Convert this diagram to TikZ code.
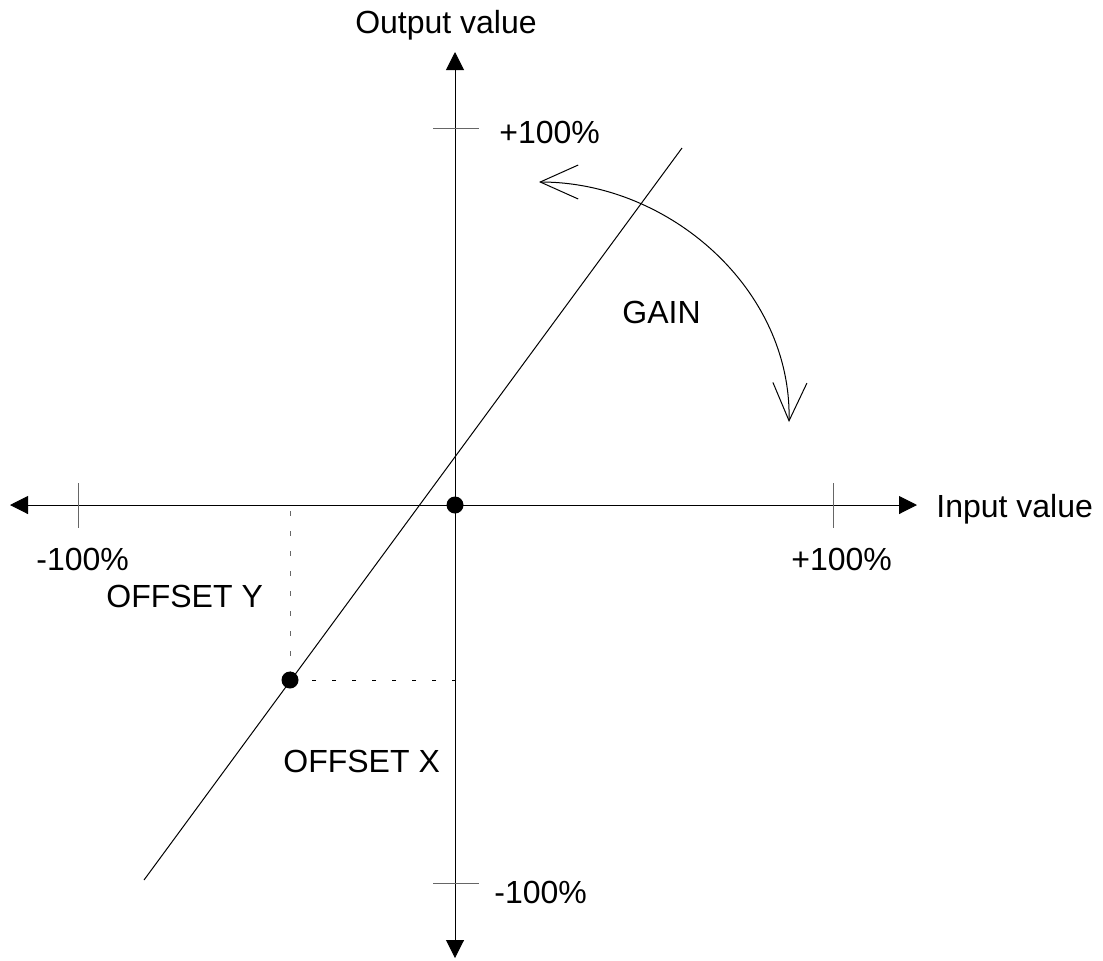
\documentclass[tikz,border=0pt]{standalone}
\usepackage{fontspec}
\setmainfont{Liberation Sans}
\usetikzlibrary{arrows.meta}

\begin{document}
\begin{tikzpicture}[x=0.5pt, y=-0.5pt,
  axis/.style={line width=0.5pt, {Triangle[length=9pt,width=9pt]}-{Triangle[length=9pt,width=9pt]}},
  tick/.style={line width=0.5pt, black!60},
  lbl/.style={font=\fontsize{16}{19}\selectfont, inner sep=0pt},
  dot/.style={circle, fill, inner sep=0pt, minimum size=8.5pt},
  gainarrow/.style={line width=0.5pt, {Straight Barb[length=19pt,width=17pt]}-{Straight Barb[length=19pt,width=17pt]}}]
  \useasboundingbox (0,0) rectangle (1103,960);
  % axes
  \coordinate (O) at (455,505);
  \coordinate (xl) at (10,505);
  \coordinate (xr) at (917,505);
  \coordinate (yt) at (455,52);
  \coordinate (yb) at (455,958);
  \draw[axis] (xl) -- (xr);
  \draw[axis] (yb) -- (yt);
  % ticks at +-100%
  \draw[tick] (78,483) -- (78,528);
  \draw[tick] (833,483) -- (833,528);
  \draw[tick] (433,128) -- (479,128);
  \draw[tick] (433,883) -- (479,883);
  % transfer line
  \coordinate (lb) at (144,880);
  \coordinate (lt) at (682,148);
  \draw[line width=0.5pt] (lb) -- (lt);
  % offset point and origin
  \node[dot] (p) at (290,680) {};
  \node[dot] (o) at (O) {};
  \coordinate (py) at (290,511);
  \coordinate (px) at (456,680);
  \draw[line width=0.5pt, black!60, dash pattern=on 2.5pt off 7.5pt] (py) -- (p);
  \draw[line width=0.5pt, dash pattern=on 2pt off 8pt] (px) -- (p);
  % gain arc
  \coordinate (ga) at (539,182);
  \coordinate (gb) at (789,422);
  \draw[gainarrow] (ga) .. controls (670,182) and (792,290) .. (gb);
  % labels
  \node[lbl, anchor=base] at (446,33) {Output value};
  \node[lbl, anchor=base west] at (499,143) {+100\%};
  \node[lbl, anchor=base west] at (494,903) {-100\%};
  \node[lbl, anchor=base west] at (36,570) {-100\%};
  \node[lbl, anchor=base west] at (791,570) {+100\%};
  \node[lbl, anchor=base west] at (936,517) {Input value};
  \node[lbl, anchor=base west] at (106,607) {OFFSET Y};
  \node[lbl, anchor=base west] at (283,772) {OFFSET X};
  \node[lbl, anchor=base west] at (622,323) {GAIN};
\end{tikzpicture}
\end{document}
